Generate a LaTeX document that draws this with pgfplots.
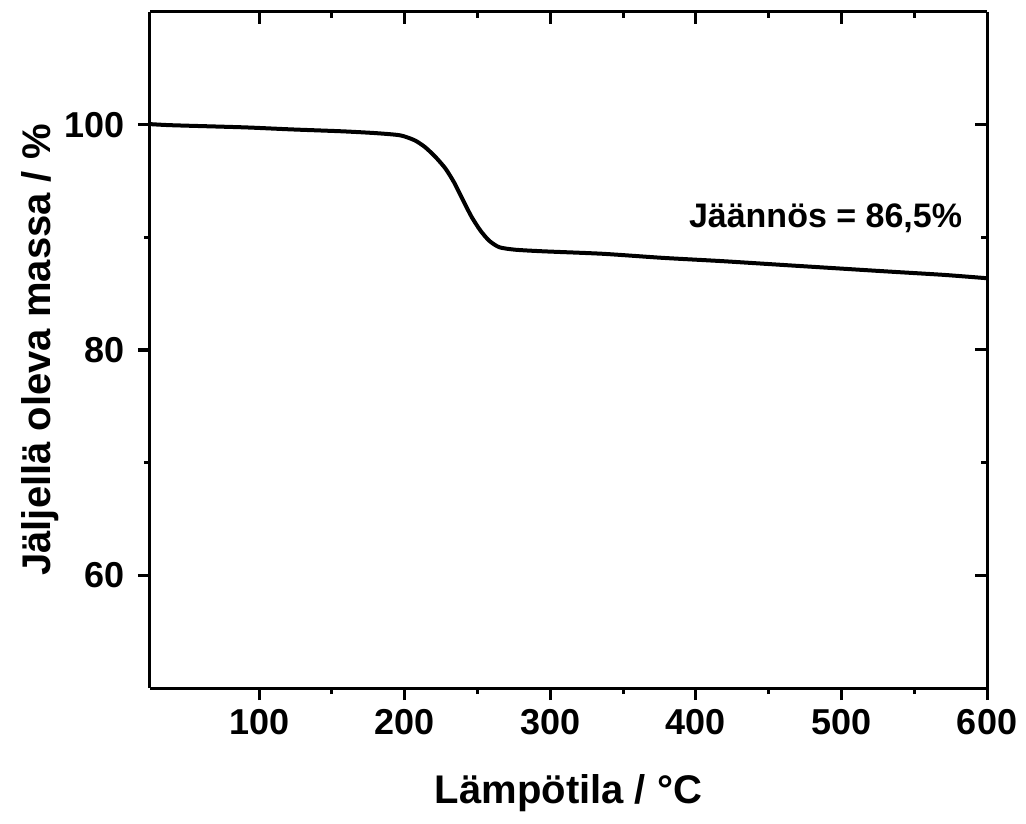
\documentclass[border=0pt]{standalone}
\usepackage{fontspec}
\setmainfont{Liberation Sans}
\usepackage{pgfplots}
\pgfplotsset{compat=1.18}

% residual mass curve (TGA)
\pgfplotstableread{
T m
25 100.05
40 99.95
90 99.76
122 99.58
157 99.41
180 99.25
197 99.05
207 98.6
214 98.0
221 97.15
228 96.1
234 94.85
240 93.3
246 91.8
252 90.6
258 89.7
265 89.12
276 88.9
295 88.76
336 88.54
377 88.18
419 87.88
467 87.49
529 86.99
570 86.67
600 86.37
}\tgadata

\pgfplotsset{
  tga/.style={
    scale only axis,
    width=418.5pt, height=338pt,
    xmin=25, xmax=600,
    ymin=50, ymax=110,
    xtick={100,200,...,600},
    ytick={60,80,100},
    minor x tick num=1,
    minor y tick num=1,
    major tick length=6pt,
    minor tick length=3pt,
    every tick/.style={line width=1.5pt, black},
    axis line style={line width=1.5pt},
    ticklabel style={font=\fontsize{18}{20}\selectfont\bfseries},
    /pgf/number format/assume math mode=true,
  },
}

\begin{document}
\begin{tikzpicture}
\useasboundingbox (-75pt,-67.5pt) rectangle (438pt,344pt);
\begin{axis}[
  tga,
  axis x line*=bottom,
  axis y line*=left,
  tick align=outside,
  xlabel={Lämpötila / °C},
  ylabel={Jäljellä oleva massa / \%},
  label style={font=\fontsize{20}{23}\selectfont\bfseries},
  xlabel style={at={(axis description cs:0.5,-0.1553)}, anchor=center},
  ylabel style={at={(axis description cs:-0.1314,0.5)}, anchor=center},
  xticklabel style={yshift=-1pt},
  yticklabel style={xshift=-3pt},
]
\addplot[black, line width=2pt, smooth, tension=0.4] table[x=T, y=m] {\tgadata};
\node[anchor=west, inner sep=0pt, font=\fontsize{17}{19}\selectfont\bfseries]
  at (axis cs:395,91.7) {Jäännös = 86,5\%};
\end{axis}
\begin{axis}[
  tga,
  axis x line*=top,
  axis y line*=right,
  tick align=inside,
  xticklabels={}, yticklabels={},
]
\end{axis}
\end{tikzpicture}
\end{document}
